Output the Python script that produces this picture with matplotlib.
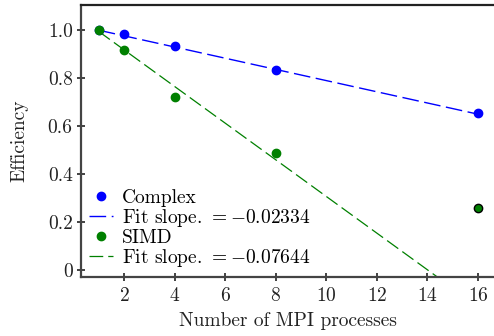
"""Efficiency vs number of MPI processes, with linear fits."""

import matplotlib

matplotlib.use("Agg")
import matplotlib.pyplot as plt
import numpy as np

plt.rcParams["font.family"] = "serif"
plt.rcParams["font.serif"] = ["cmr10", "DejaVu Serif"]
plt.rcParams["mathtext.fontset"] = "cm"
plt.rcParams["axes.formatter.use_mathtext"] = True

procs = [1, 2, 4, 8, 16]
eff_complex = [1.0, 0.982, 0.932, 0.832, 0.653]
eff_simd = [1.0, 0.917, 0.721, 0.487, 0.257]

slope_complex, icpt_complex = -0.02334, 1.023
slope_simd, icpt_simd = -0.07644, 1.071

x_ticks = [2, 4, 6, 8, 10, 12, 14, 16]
y_ticks = [0, 0.2, 0.4, 0.6, 0.8, 1.0]
y_ticklabels = ["0", "0.2", "0.4", "0.6", "0.8", "1.0"]

fig = plt.figure(figsize=(4.94, 3.36), dpi=100)
ax = fig.add_axes([0.164, 0.1756, 0.836, 0.809])

xfit = np.array([procs[0], procs[-1]])
blue, green = "#0000ff", "#008000"

ax.plot(procs, eff_complex, "o", color=blue, ms=6, label="Complex", zorder=3)
ax.plot(xfit, icpt_complex + slope_complex * xfit, color=blue, lw=1.0,
        dashes=(12, 4), label=r"Fit slope. $= -0.02334$")
ax.plot(procs[:-1], eff_simd[:-1], "o", color=green, ms=6, label="SIMD", zorder=3)
ax.plot(procs[-1], eff_simd[-1], "o", color=green, ms=6, mec="black", mew=1.0, zorder=3)
ax.plot(xfit, icpt_simd + slope_simd * xfit, color=green, lw=0.9,
        dashes=(11, 4), label=r"Fit slope. $= -0.07644$")

ax.set_xlim(0.3, 16.63)
ax.set_ylim(-0.029, 1.104)
ax.set_xticks(x_ticks)
ax.set_yticks(y_ticks)
ax.set_yticklabels(y_ticklabels)
ax.tick_params(direction="inout", length=6, width=1.2, labelsize=14, colors="#222222")
ax.tick_params(axis="x", pad=4)
ax.tick_params(axis="y", pad=3)

ax.spines["top"].set_color("#222222")
for side in ["left", "bottom"]:
    ax.spines[side].set_color("#444444")
for side in ["left", "bottom", "top"]:
    ax.spines[side].set_linewidth(1.6)
ax.spines["right"].set_visible(False)

ax.set_xlabel("Number of MPI processes", fontsize=14, color="#222222", labelpad=5)
ax.set_ylabel("Efficiency", fontsize=14, color="#222222", labelpad=14)

handles, labels = ax.get_legend_handles_labels()
ax.legend(handles, labels, loc="lower left", frameon=False, fontsize=14,
          handlelength=1.25, handletextpad=0.45, labelspacing=0.0,
          borderaxespad=0.0, borderpad=0.4, numpoints=1)

fig.savefig("out.png", dpi=100)
